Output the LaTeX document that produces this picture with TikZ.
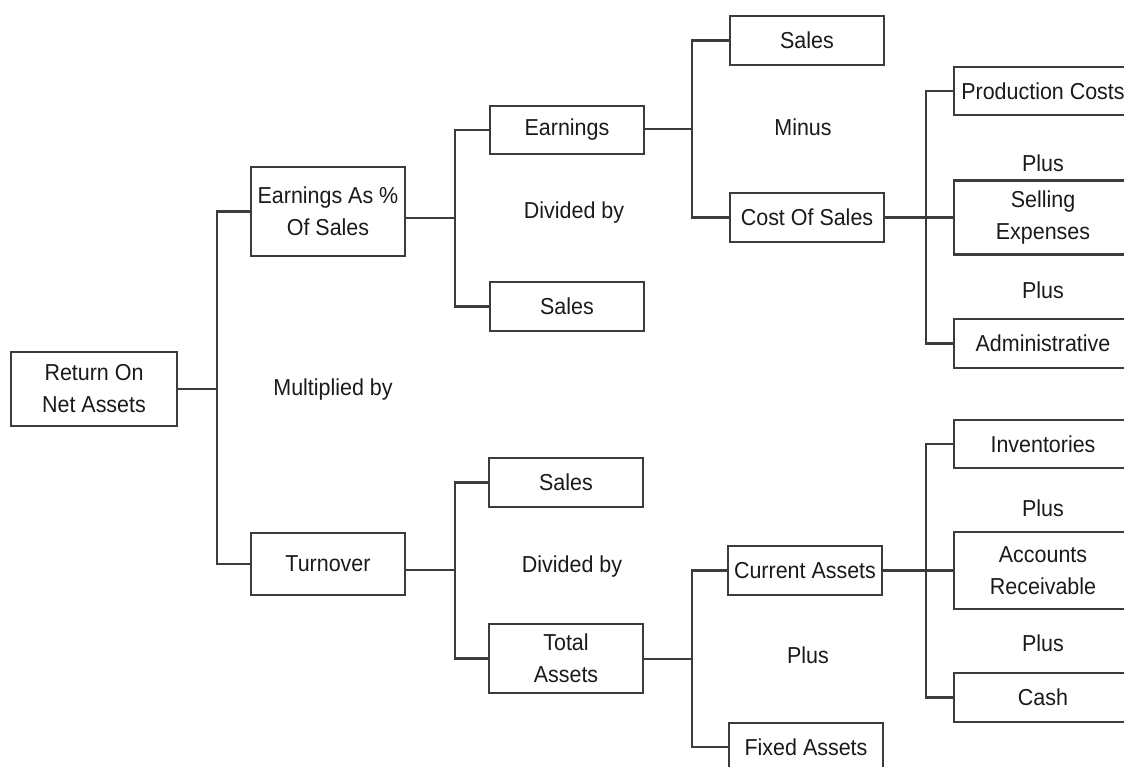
\documentclass[tikz,border=0pt]{standalone}
\usepackage{fontspec}
\setmainfont[FakeStretch=0.93]{Liberation Sans}
\definecolor{inkline}{HTML}{3C3C3C}
\definecolor{inktext}{HTML}{1A1A1A}
\begin{document}
\begin{tikzpicture}[x=0.75pt,y=-0.75pt,
  every node/.style={font=\fontsize{17.3}{24}\selectfont, text=inktext, inner sep=0pt, align=center},
  box/.style={draw=inkline, line width=1.6pt, minimum width=115.5pt, minimum height=36.5pt},
  widebox/.style={box, minimum width=133.5pt},
  link/.style={draw=inkline, line width=1.6pt},
  op/.style={}]
\useasboundingbox (0,0) rectangle (1124,767);
\clip (0,0) rectangle (1124,767);

% level 0
\node[box, minimum width=124.5pt, minimum height=55.5pt] (root) at (94,389) {Return On\\Net Assets};

% level 1
\node[box, minimum height=66.5pt] (eas) at (328,211.5) {Earnings As \%\\Of Sales};
\node[box, minimum height=46.5pt] (turn) at (328,564) {Turnover};

% level 2
\node[box] (earn)   at (567,130)   {Earnings};
\node[box] (salesA) at (567,306.5) {Sales};
\node[box] (salesB) at (566,482.5) {Sales};
\node[box, minimum height=52pt] (total) at (566,658.5) {Total\\Assets};

% level 3
\node[box] (salesT) at (807,40.5)  {Sales};
\node[box] (cos)    at (807,217.5) {Cost Of Sales};
\node[box] (cur)    at (805,570.5) {Current Assets};
\node[box] (fixed)  at (806,747)   {Fixed Assets};

% level 4
\node[widebox] (prod)  at (1043,91)    {Production Costs};
\node[widebox, minimum height=55.5pt] (sell) at (1043,217.5) {Selling\\Expenses};
\node[widebox] (admin) at (1043,343.5) {Administrative};
\node[widebox] (inv)   at (1043,444)   {Inventories};
\node[widebox, minimum height=57.5pt] (acc) at (1043,570.5) {Accounts\\Receivable};
\node[widebox] (cash)  at (1043,697.5) {Cash};

% operators
\node[op] (mult) at (333,390) {Multiplied by};
\node[op] (divA) at (574,213) {Divided by};
\node[op] (minus) at (803,127) {Minus};
\node[op] (plusA) at (1043,163) {Plus};
\node[op] (plusB) at (1043,290) {Plus};
\node[op] (divB) at (572,567) {Divided by};
\node[op] (plusC) at (808,655) {Plus};
\node[op] (plusD) at (1043,508) {Plus};
\node[op] (plusE) at (1043,643) {Plus};

% junction points of the bracket connectors
\coordinate (j0) at (217,389);
\coordinate (j1) at (455,218);
\coordinate (j2) at (455,570);
\coordinate (j3) at (692,129);
\coordinate (j4) at (926,217.5);
\coordinate (j5) at (692,659);
\coordinate (j6) at (926,570.5);

% connectors
\draw[link] (root.east) -- (j0);
\draw[link] (eas.west) -| (j0) |- (turn.west);

\draw[link] (j1 -| eas.east) -- (j1);
\draw[link] (earn.west) -| (j1) |- (salesA.west);

\draw[link] (j2 -| turn.east) -- (j2);
\draw[link] (salesB.west) -| (j2) |- (total.west);

\draw[link] (j3 -| earn.east) -- (j3);
\draw[link] (salesT.west) -| (j3) |- (cos.west);

\draw[link] (j4 -| cos.east) -- (j4);
\draw[link] (prod.west) -| (j4) |- (admin.west);
\draw[link] (j4) -- (sell.west);

\draw[link] (j5 -| total.east) -- (j5);
\draw[link] (cur.west) -| (j5) |- (fixed.west);

\draw[link] (j6 -| cur.east) -- (j6);
\draw[link] (inv.west) -| (j6) |- (cash.west);
\draw[link] (j6) -- (acc.west);
\end{tikzpicture}
\end{document}
